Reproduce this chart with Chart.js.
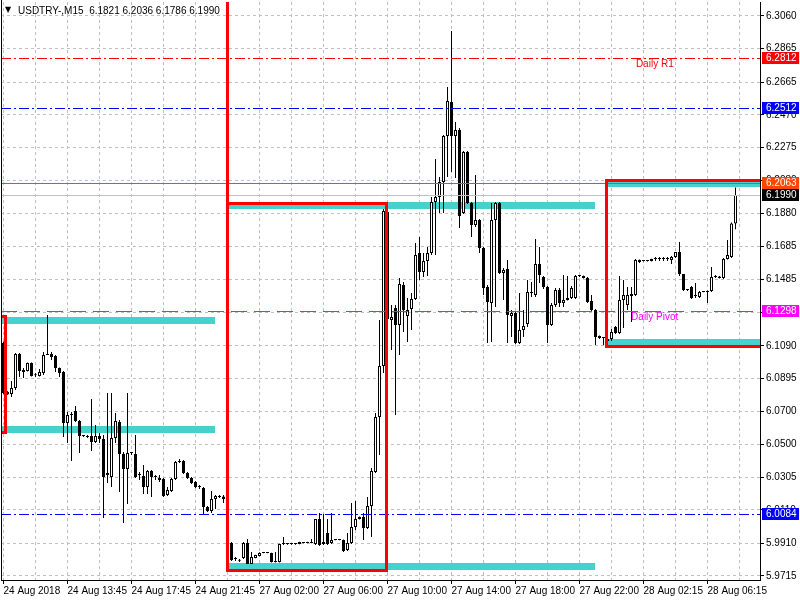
<!DOCTYPE html>
<html>
<head>
<meta charset="utf-8">
<title>USDTRY-,M15</title>
<script src="https://cdn.jsdelivr.net/npm/chart.js@4.4.0/dist/chart.umd.min.js"></script>
<style>
  html, body { margin: 0; padding: 0; background: #fff; }
  canvas { display: block; }
</style>
</head>
<body>
<canvas id="chart" width="800" height="600"></canvas>
<script>
// --- M15 bars (bar 0 = 24 Aug 09:45) ---
const opens = [
  6.1107, 6.0814, 6.0802, 6.0838, 6.1041, 6.0933, 6.0939, 6.0987,
  6.0916, 6.0910, 6.0927, 6.1035, 6.1041, 6.1029, 6.0957, 6.0933,
  6.0629, 6.0677, 6.0700, 6.0641, 6.0551, 6.0551, 6.0551, 6.0515,
  6.0551, 6.0533, 6.0318, 6.0306, 6.0539, 6.0635, 6.0443, 6.0354,
  6.0449, 6.0443, 6.0318, 6.0312, 6.0246, 6.0342, 6.0306, 6.0300,
  6.0294, 6.0199, 6.0222, 6.0294, 6.0396, 6.0402, 6.0330, 6.0300,
  6.0276, 6.0246, 6.0240, 6.0127, 6.0103, 6.0175, 6.0187, 6.0190,
  6.0175, 5.9912, 5.9816, 5.9810, 5.9822, 5.9912, 5.9786, 5.9822,
  5.9834, 5.9852, 5.9852, 5.9852, 5.9798, 5.9798, 5.9906, 5.9906,
  5.9906, 5.9906, 5.9906, 5.9912, 5.9918, 5.9912, 5.9906, 6.0055,
  5.9918, 5.9972, 5.9912, 5.9930, 5.9930, 5.9930, 5.9870, 5.9912,
  6.0007, 6.0055, 6.0067, 6.0001, 6.0133, 6.0336, 6.0665, 6.0969,
  6.1889, 6.1244, 6.1316, 6.1214, 6.1453, 6.1268, 6.1310, 6.1369,
  6.1644, 6.1531, 6.1596, 6.1644, 6.1949, 6.1979, 6.2068, 6.2343,
  6.2546, 6.2343, 6.2379, 6.1883, 6.2248, 6.1943, 6.1812, 6.1841,
  6.1674, 6.1441, 6.1346, 6.1841, 6.1943, 6.1525, 6.1549, 6.1268,
  6.1286, 6.1107, 6.1184, 6.1220, 6.1411, 6.1393, 6.1578, 6.1501,
  6.1441, 6.1214, 6.1334, 6.1423, 6.1346, 6.1363, 6.1375, 6.1375,
  6.1507, 6.1507, 6.1495, 6.1358, 6.1304, 6.1149, 6.1137, 6.1131,
  6.1131, 6.1202, 6.1166, 6.1363, 6.1334, 6.1387, 6.1393, 6.1602,
  6.1596, 6.1596, 6.1596, 6.1608, 6.1608, 6.1608, 6.1608, 6.1602,
  6.1620, 6.1650, 6.1519, 6.1423, 6.1441, 6.1387, 6.1381, 6.1411,
  6.1411, 6.1417, 6.1501, 6.1504, 6.1495, 6.1608, 6.1620, 6.1821
];
const highs = [
  6.1115, 6.0820, 6.0880, 6.1047, 6.1047, 6.0957, 6.0990, 6.0990,
  6.0928, 6.0951, 6.1053, 6.1274, 6.1053, 6.1035, 6.0960, 6.0939,
  6.0694, 6.0694, 6.0730, 6.0647, 6.0557, 6.0557, 6.0772, 6.0617,
  6.0569, 6.0557, 6.0808, 6.0808, 6.0688, 6.0647, 6.0455, 6.0808,
  6.0455, 6.0557, 6.0336, 6.0378, 6.0348, 6.0348, 6.0318, 6.0318,
  6.0300, 6.0246, 6.0300, 6.0402, 6.0414, 6.0408, 6.0336, 6.0306,
  6.0282, 6.0258, 6.0246, 6.0133, 6.0222, 6.0199, 6.0199, 6.0199,
  6.0181, 5.9918, 5.9828, 5.9816, 5.9918, 5.9936, 5.9858, 5.9842,
  5.9856, 5.9854, 5.9854, 5.9854, 5.9858, 5.9908, 5.9948, 5.9910,
  5.9910, 5.9910, 5.9920, 5.9914, 5.9920, 5.9936, 6.0055, 6.0091,
  6.0085, 6.0055, 6.0091, 5.9932, 5.9932, 5.9932, 5.9972, 6.0151,
  6.0163, 6.0070, 6.0091, 6.0187, 6.0360, 6.0688, 6.1244, 6.1907,
  6.1895, 6.1334, 6.1334, 6.1495, 6.1471, 6.1375, 6.1405, 6.1704,
  6.1740, 6.1644, 6.1680, 6.1979, 6.2206, 6.2098, 6.2349, 6.2636,
  6.2970, 6.2427, 6.2391, 6.2254, 6.2254, 6.1949, 6.2110, 6.1847,
  6.1680, 6.1453, 6.1943, 6.1949, 6.1949, 6.1555, 6.1602, 6.1304,
  6.1292, 6.1405, 6.1304, 6.1483, 6.1471, 6.1728, 6.1680, 6.1507,
  6.1447, 6.1346, 6.1435, 6.1435, 6.1513, 6.1507, 6.1447, 6.1513,
  6.1513, 6.1510, 6.1501, 6.1393, 6.1310, 6.1152, 6.1143, 6.1137,
  6.1190, 6.1208, 6.1507, 6.1483, 6.1441, 6.1441, 6.1608, 6.1605,
  6.1598, 6.1598, 6.1610, 6.1620, 6.1620, 6.1620, 6.1620, 6.1626,
  6.1650, 6.1710, 6.1519, 6.1429, 6.1447, 6.1465, 6.1417, 6.1413,
  6.1420, 6.1561, 6.1513, 6.1507, 6.1614, 6.1722, 6.1827, 6.2036
];
const lows = [
  6.0800, 6.0796, 6.0784, 6.0826, 6.0904, 6.0898, 6.0936, 6.0907,
  6.0904, 6.0907, 6.0916, 6.1035, 6.1005, 6.0933, 6.0904, 6.0545,
  6.0509, 6.0402, 6.0635, 6.0449, 6.0545, 6.0539, 6.0461, 6.0509,
  6.0509, 6.0061, 6.0270, 6.0246, 6.0509, 6.0216, 6.0031, 6.0145,
  6.0437, 6.0300, 6.0288, 6.0205, 6.0205, 6.0187, 6.0288, 6.0276,
  6.0187, 6.0193, 6.0216, 6.0288, 6.0390, 6.0324, 6.0294, 6.0264,
  6.0240, 6.0234, 6.0085, 6.0097, 6.0091, 6.0115, 6.0181, 6.0151,
  6.0091, 5.9804, 5.9804, 5.9798, 5.9816, 5.9786, 5.9786, 5.9820,
  5.9832, 5.9850, 5.9850, 5.9796, 5.9796, 5.9796, 5.9900, 5.9902,
  5.9902, 5.9902, 5.9904, 5.9910, 5.9910, 5.9910, 5.9900, 5.9894,
  5.9900, 5.9900, 5.9906, 5.9928, 5.9928, 5.9858, 5.9864, 5.9906,
  5.9990, 6.0052, 5.9930, 5.9996, 5.9948, 6.0330, 6.0438, 6.0927,
  6.0838, 6.1065, 6.0677, 6.1035, 6.1172, 6.1113, 6.1184, 6.1363,
  6.1483, 6.1501, 6.1507, 6.1632, 6.1632, 6.1883, 6.1883, 6.2098,
  6.2128, 6.2092, 6.1794, 6.1877, 6.1937, 6.1740, 6.1800, 6.1644,
  6.1393, 6.1107, 6.1113, 6.1322, 6.1519, 6.1363, 6.1107, 6.1143,
  6.1101, 6.1101, 6.1143, 6.1202, 6.1381, 6.1381, 6.1465, 6.1429,
  6.1107, 6.1208, 6.1322, 6.1322, 6.1322, 6.1360, 6.1369, 6.1369,
  6.1501, 6.1492, 6.1346, 6.1292, 6.1095, 6.1131, 6.1095, 6.1101,
  6.1119, 6.1160, 6.1160, 6.1196, 6.1304, 6.1232, 6.1387, 6.1584,
  6.1594, 6.1594, 6.1594, 6.1596, 6.1596, 6.1596, 6.1596, 6.1578,
  6.1614, 6.1507, 6.1417, 6.1417, 6.1369, 6.1375, 6.1375, 6.1409,
  6.1346, 6.1411, 6.1495, 6.1492, 6.1489, 6.1605, 6.1614, 6.1786
];
const closes = [
  6.0808, 6.0799, 6.0838, 6.1041, 6.0939, 6.0945, 6.0987, 6.0910,
  6.0914, 6.0933, 6.1035, 6.1041, 6.1023, 6.0957, 6.0927, 6.0629,
  6.0677, 6.0677, 6.0641, 6.0551, 6.0551, 6.0545, 6.0515, 6.0551,
  6.0533, 6.0306, 6.0330, 6.0539, 6.0641, 6.0443, 6.0354, 6.0449,
  6.0449, 6.0306, 6.0318, 6.0246, 6.0342, 6.0306, 6.0306, 6.0288,
  6.0193, 6.0228, 6.0294, 6.0396, 6.0402, 6.0330, 6.0300, 6.0270,
  6.0246, 6.0246, 6.0127, 6.0103, 6.0175, 6.0193, 6.0190, 6.0175,
  6.0163, 5.9810, 5.9816, 5.9806, 5.9912, 5.9786, 5.9828, 5.9840,
  5.9852, 5.9852, 5.9852, 5.9798, 5.9800, 5.9906, 5.9906, 5.9906,
  5.9906, 5.9906, 5.9918, 5.9912, 5.9912, 5.9914, 6.0055, 5.9900,
  5.9906, 5.9906, 5.9930, 5.9930, 5.9930, 5.9864, 5.9912, 6.0007,
  6.0055, 6.0067, 6.0001, 6.0133, 6.0342, 6.0665, 6.0969, 6.1895,
  6.1250, 6.1262, 6.1214, 6.1459, 6.1304, 6.1304, 6.1369, 6.1632,
  6.1531, 6.1596, 6.1644, 6.1949, 6.1979, 6.2068, 6.2343, 6.2552,
  6.2343, 6.2379, 6.1865, 6.2248, 6.1943, 6.1812, 6.1841, 6.1674,
  6.1435, 6.1352, 6.1841, 6.1943, 6.1525, 6.1543, 6.1274, 6.1286,
  6.1107, 6.1184, 6.1208, 6.1411, 6.1405, 6.1578, 6.1513, 6.1441,
  6.1214, 6.1334, 6.1423, 6.1346, 6.1363, 6.1375, 6.1435, 6.1507,
  6.1507, 6.1495, 6.1352, 6.1304, 6.1143, 6.1137, 6.1137, 6.1119,
  6.1172, 6.1166, 6.1363, 6.1393, 6.1393, 6.1399, 6.1602, 6.1590,
  6.1596, 6.1596, 6.1608, 6.1608, 6.1608, 6.1608, 6.1608, 6.1620,
  6.1650, 6.1519, 6.1423, 6.1423, 6.1375, 6.1387, 6.1411, 6.1411,
  6.1417, 6.1501, 6.1501, 6.1495, 6.1608, 6.1632, 6.1821, 6.1990
];

// time axis labels and the bar they sit on
const timeLabels = ['24 Aug 2018', '24 Aug 13:45', '24 Aug 17:45', '24 Aug 21:45',
  '27 Aug 02:00', '27 Aug 06:00', '27 Aug 10:00', '27 Aug 14:00',
  '27 Aug 18:00', '27 Aug 22:00', '28 Aug 02:15', '28 Aug 06:15'];
const labelBars = [0, 16, 32, 48, 64, 80, 96, 112, 128, 144, 160, 176];

// price axis ticks
const priceTicks = [6.3060, 6.2865, 6.2665, 6.2470, 6.2275, 6.2080, 6.1880, 6.1685, 6.1485,
  6.1290, 6.1090, 6.0895, 6.0700, 6.0500, 6.0305, 6.0110, 5.9910, 5.9715];

// horizontal levels: R1, blue line, orange line, bid, pivot, blue line
const levelPrices = [6.2812, 6.2512, 6.2063, 6.1990, 6.1298, 6.0084];
const levelNames = ['Daily R1', '', '', '', 'Daily Pivot', ''];
const levelNameBar = [158.1, 0, 0, 0, 156.9, 0];

// session rectangles (bar index / price)
const boxFrom = [-3, 56, 150.8];
const boxTo = [0.6, 95.7, 195];
const boxHigh = [6.1268, 6.1945, 6.2080];
const boxLow = [6.0575, 5.9751, 6.1091];

// turquoise zones
const bandFrom = [-3, -3, 56, 56, 150.8, 150.8];
const bandTo = [52.9, 52.9, 147.9, 147.9, 195, 195];
const bandHigh = [6.1264, 6.0613, 6.1947, 5.9791, 6.2068, 6.1129];
const bandLow = [6.1220, 6.0569, 6.1907, 5.9751, 6.2037, 6.1093];

const sessionBar = 56;

// styles
const levelColors = ['#FF0000', '#0000FF', '#FF4500', '#C0C0C0', '#FF00FF', '#0000FF'];
const levelDash = [[10, 3, 2, 3], [10, 3, 2, 3], [], [], [16, 7], [10, 3, 2, 3]];
const tagColors = ['#FF0000', '#0000FF', '#FF4500', '#000000', '#FF00FF', '#0000FF'];
const FONT = '"Liberation Sans", Arial, "DejaVu Sans", sans-serif';

Chart.defaults.font.family = FONT;
Chart.defaults.font.size = 10;
Chart.defaults.color = '#000';

const idx = opens.map((o, i) => i);
const wickData = idx.map(i => ({ x: i, y: [lows[i], highs[i]] }));
const bodyData = idx.map(i => ({ x: i, y: [Math.min(opens[i], closes[i]), Math.max(opens[i], closes[i])] }));
const gridBars = [];
for (let b = 0; b <= 184; b += 8) gridBars.push(b);

// overlay objects (zones, lines, boxes, labels)
const overlay = {
  id: 'overlay',
  beforeDatasetsDraw(chart) {
    const { ctx, chartArea: a, scales: { x, y } } = chart;
    ctx.save();
    ctx.beginPath();
    ctx.rect(a.left, a.top, a.right - a.left, a.bottom - a.top);
    ctx.clip();
    ctx.fillStyle = '#48D1CC';
    for (let k = 0; k < bandFrom.length; k++) {
      const x0 = Math.floor(x.getPixelForValue(bandFrom[k]));
      const x1 = Math.floor(x.getPixelForValue(bandTo[k]));
      const y0 = Math.round(y.getPixelForValue(bandHigh[k]));
      const y1 = Math.round(y.getPixelForValue(bandLow[k]));
      ctx.fillRect(x0, y0, x1 - x0, y1 - y0);
    }
    ctx.restore();
  },
  afterDatasetsDraw(chart) {
    const { ctx, chartArea: a, scales: { x, y } } = chart;
    ctx.save();
    ctx.beginPath();
    ctx.rect(a.left, a.top, a.right - a.left, a.bottom - a.top);
    ctx.clip();

    // level lines
    ctx.lineWidth = 1;
    levelPrices.forEach((p, k) => {
      const yy = Math.round(y.getPixelForValue(p)) + 0.5;
      ctx.strokeStyle = levelColors[k];
      ctx.setLineDash(levelDash[k]);
      ctx.beginPath();
      ctx.moveTo(a.left, yy);
      ctx.lineTo(a.right, yy);
      ctx.stroke();
    });
    ctx.setLineDash([]);

    // red session boxes
    ctx.strokeStyle = '#FF0000';
    ctx.lineWidth = 3;
    for (let k = 0; k < boxFrom.length; k++) {
      const x0 = Math.floor(x.getPixelForValue(boxFrom[k])) + 0.5;
      const x1 = Math.floor(x.getPixelForValue(boxTo[k])) + 0.5;
      const y0 = Math.round(y.getPixelForValue(boxHigh[k])) + 0.5;
      const y1 = Math.round(y.getPixelForValue(boxLow[k])) + 0.5;
      ctx.strokeRect(x0, y0, x1 - x0, y1 - y0);
    }
    // session start line
    const sx = Math.floor(x.getPixelForValue(sessionBar)) + 0.5;
    ctx.beginPath();
    ctx.moveTo(sx, a.top - 2);
    ctx.lineTo(sx, Math.round(y.getPixelForValue(boxHigh[1])));
    ctx.stroke();

    // level names
    ctx.font = '10px ' + FONT;
    ctx.textBaseline = 'top';
    ctx.textAlign = 'left';
    levelNames.forEach((t, k) => {
      if (!t) return;
      ctx.fillStyle = levelColors[k];
      ctx.fillText(t, x.getPixelForValue(levelNameBar[k]), Math.round(y.getPixelForValue(levelPrices[k])) + 1);
    });
    ctx.restore();

    // left frame
    ctx.save();
    ctx.strokeStyle = '#000';
    ctx.lineWidth = 1;
    ctx.beginPath();
    ctx.moveTo(1.5, 0);
    ctx.lineTo(1.5, a.bottom);
    ctx.stroke();

    // header
    const last = opens.length - 1;
    ctx.fillStyle = '#000';
    ctx.textBaseline = 'middle';
    ctx.font = '8px "DejaVu Sans"';
    ctx.fillText('\u25BC', 5, 10);
    ctx.font = '10px ' + FONT;
    ctx.fillText('USDTRY-,M15  ' + [opens[last], highs[last], lows[last], closes[last]]
      .map(v => v.toFixed(4)).join(' '), 18, 11);
    ctx.restore();
  },
  afterDraw(chart) {
    const { ctx, chartArea: a, scales: { y } } = chart;
    ctx.save();
    ctx.font = '10px ' + FONT;
    ctx.textBaseline = 'middle';
    levelPrices.forEach((p, k) => {
      const yy = Math.round(y.getPixelForValue(p));
      ctx.fillStyle = tagColors[k];
      ctx.fillRect(a.right + 2, yy - 6, 37, 12);
      ctx.fillStyle = '#fff';
      ctx.fillText(p.toFixed(4), a.right + 6, yy + 0.5);
    });
    ctx.restore();
  }
};

document.addEventListener('DOMContentLoaded', function() {
  const ctx = document.getElementById('chart').getContext('2d');
  new Chart(ctx, {
    type: 'bar',
    data: {
      datasets: [{
        label: 'body',
        data: bodyData,
        order: 1,
        grouped: false,
        barThickness: 3,
        minBarLength: 1,
        inflateAmount: 0,
        borderWidth: 1,
        borderSkipped: false,
        borderColor: '#000',
        backgroundColor: c => closes[c.dataIndex] >= opens[c.dataIndex] ? '#fff' : '#000'
      }, {
        label: 'wick',
        data: wickData,
        order: 2,
        grouped: false,
        barThickness: 1,
        minBarLength: 1,
        inflateAmount: 0,
        borderWidth: 0,
        backgroundColor: '#000'
      }]
    },
    options: {
      responsive: false,
      animation: false,
      events: [],
      layout: { padding: { left: 1, top: 2, right: 0, bottom: 0 } },
      plugins: { legend: { display: false }, tooltip: { enabled: false } },
      scales: {
        x: {
          type: 'linear',
          min: -0.625,
          max: 189.125,
          offset: false,
          afterBuildTicks: s => { s.ticks = gridBars.map(v => ({ value: v })); },
          afterFit: s => { s.height = 20; s.paddingLeft = 0; s.paddingRight = 0; },
          ticks: {
            autoSkip: false,
            maxRotation: 0,
            minRotation: 0,
            align: 'start',
            padding: 1,
            color: '#000',
            font: { size: 10 },
            callback: v => {
              const n = labelBars.indexOf(v);
              return n >= 0 ? timeLabels[n] : '';
            }
          },
          grid: {
            offset: false,
            color: '#C0C0C0',
            tickLength: 4,
            tickColor: c => (c.tick && labelBars.indexOf(c.tick.value) >= 0) ? '#000' : 'rgba(0,0,0,0)'
          },
          border: { display: true, color: '#000', width: 1, dash: [3, 3] }
        },
        y: {
          type: 'linear',
          position: 'right',
          min: 5.96908,
          max: 6.31436,
          afterBuildTicks: s => { s.ticks = priceTicks.map(v => ({ value: v })); },
          afterFit: s => { s.width = 40; s.paddingTop = 0; s.paddingBottom = 0; },
          ticks: {
            autoSkip: false,
            padding: 2,
            color: '#000',
            font: { size: 10 },
            callback: v => v.toFixed(4)
          },
          grid: { color: '#C0C0C0', tickLength: 4, tickColor: '#000' },
          border: { display: true, color: '#000', width: 1, dash: [3, 3] }
        }
      }
    },
    plugins: [overlay]
  });
});
</script>
</body>
</html>
